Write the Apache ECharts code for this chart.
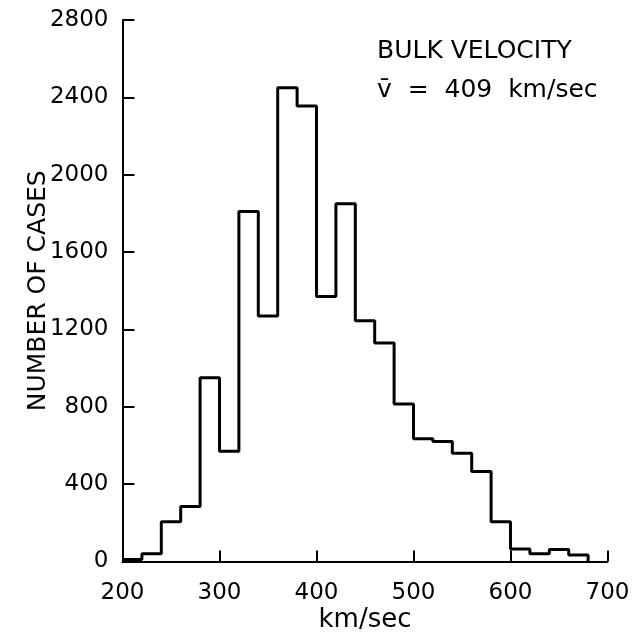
<!DOCTYPE html>
<html>
<head>
<meta charset="utf-8">
<script src="https://cdn.jsdelivr.net/npm/echarts@6/dist/echarts.min.js"></script>
<style>
html, body { margin: 0; padding: 0; background: #fff; }
#box { width: 642px; height: 632px; }
</style>
</head>
<body>
<div id="box"></div>
<script>
// left edge of each 20 km/sec bin
var binStart = [200, 220, 240, 260, 280, 300, 320, 340, 360, 380, 400, 420,
                440, 460, 480, 500, 520, 540, 560, 580, 600, 620, 640, 660];
var binEnd = 680;
var cases = [10, 40, 205, 285, 950, 570, 1810, 1270, 2450, 2355, 1370, 1850,
             1245, 1130, 815, 635, 620, 560, 465, 205, 65, 40, 62, 33];
var xTicks = [200, 300, 400, 500, 600, 700];
var yTicks = [0, 400, 800, 1200, 1600, 2000, 2400, 2800];

var dom = document.getElementById('box');
var myChart = echarts.init(dom);

var steps = [];
for (var i = 0; i < binStart.length; i++) {
    steps.push([binStart[i], cases[i]]);
}
steps.push([binEnd, 0]);

var font = 'DejaVu Sans';

var option = {
    animation: false,
    backgroundColor: '#fff',
    grid: {
        left: 122.5,
        right: 34.5,
        top: 20,
        bottom: 70.5,
        outerBoundsMode: 'none',
        containLabel: false
    },
    xAxis: {
        type: 'value',
        min: xTicks[0],
        max: xTicks[xTicks.length - 1],
        interval: 100,
        name: 'km/sec',
        nameLocation: 'middle',
        nameGap: 46,
        nameMoveOverlap: false,
        nameTextStyle: { color: '#000', fontFamily: font, fontSize: 26 },
        axisLine: { show: true, lineStyle: { color: '#000', width: 2 } },
        axisTick: { show: true, inside: true, length: 11, lineStyle: { color: '#000', width: 2 } },
        axisLabel: {
            color: '#000', fontFamily: font, fontSize: 23, margin: 20,
            formatter: function (v) { return String(v); }
        },
        splitLine: { show: false }
    },
    yAxis: {
        type: 'value',
        min: yTicks[0],
        max: yTicks[yTicks.length - 1],
        interval: 400,
        name: 'NUMBER OF CASES',
        nameLocation: 'middle',
        nameGap: 72,
        nameMoveOverlap: false,
        nameTextStyle: { color: '#000', fontFamily: font, fontSize: 25 },
        axisLine: { show: true, lineStyle: { color: '#000', width: 2 } },
        axisTick: { show: true, inside: true, length: 12, lineStyle: { color: '#000', width: 2 } },
        axisLabel: {
            color: '#000', fontFamily: font, fontSize: 23, margin: 14,
            formatter: function (v) { return String(v); }
        },
        splitLine: { show: false }
    },
    graphic: [
        {
            type: 'text',
            left: 377,
            top: 39,
            style: { text: 'BULK VELOCITY', fill: '#000', font: '25px "DejaVu Sans"' }
        },
        {
            type: 'text',
            left: 377,
            top: 78,
            style: { text: 'v\u0304  =  409  km/sec', fill: '#000', font: '25px "DejaVu Sans"' }
        }
    ],
    series: [
        {
            type: 'line',
            step: 'end',
            data: steps,
            showSymbol: false,
            symbol: 'none',
            lineStyle: { color: '#000', width: 3 },
            z: 3
        }
    ]
};

myChart.setOption(option, true);
</script>
</body>
</html>
